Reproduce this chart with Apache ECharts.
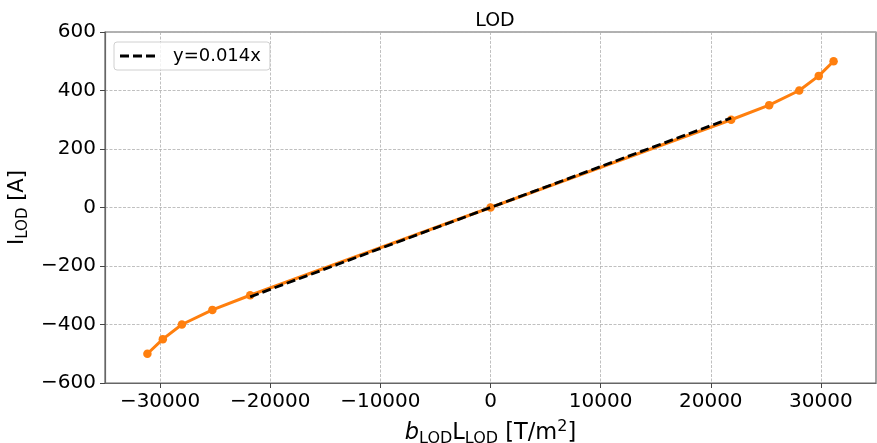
<!DOCTYPE html>
<html>
<head>
<meta charset="utf-8">
<script src="https://cdn.jsdelivr.net/npm/echarts@6/dist/echarts.min.js"></script>
<style>
  html, body { margin: 0; padding: 0; background: #fff; }
  #chart { width: 877px; height: 443px; }
</style>
</head>
<body>
<div id="chart"></div>
<script>
// Measured field product b·L (T/m^2) against coil current (A)
const fieldProduct = [-31150, -29750, -28020, -25250, -21820, 0, 21850, 25300, 28030, 29800, 31150];
const current = [-500, -450, -400, -350, -300, 0, 300, 350, 400, 450, 500];

// Linear fit over the central, linear part of the curve
const fitSlope = 0.014;
const fitRange = [-21820, 21850];
const fitLabel = 'y=0.014x';

const xTicks = [-30000, -20000, -10000, 0, 10000, 20000, 30000];
const yTicks = [-600, -400, -200, 0, 200, 400, 600];

const FONT = 'DejaVu Sans';

const measured = fieldProduct.map((x, i) => [x, current[i]]);
const fitLine = fitRange.map(x => [x, fitSlope * x]);

const gridLine = { show: true, lineStyle: { color: '#b0b0b0', width: 0.8, type: [3, 1.5] } };
const frameLine = { show: true, onZero: false, lineStyle: { color: '#666', width: 1.2 } };
const minus = v => (v < 0 ? '\u2212' + Math.abs(v) : String(v));

// rich-text styles for axis titles with sub- and superscripts
const makeRich = (main, small) => ({
  m: { fontFamily: FONT, fontSize: main, color: '#000', lineHeight: main + 5 },
  mi: { fontFamily: FONT, fontSize: main, fontStyle: 'italic', color: '#000', lineHeight: main + 5 },
  sub: { fontFamily: FONT, fontSize: small, color: '#000', lineHeight: small, verticalAlign: 'bottom' },
  sup: { fontFamily: FONT, fontSize: small, color: '#000', lineHeight: small, verticalAlign: 'top' }
});

// three short dashes, used as the legend swatch of the fit line
const dashIcon = 'path://M0,0H9V3H0Z M13,0H22V3H13Z M26,0H35V3H26Z';

const chart = echarts.init(document.getElementById('chart'), null, { renderer: 'canvas' });

chart.setOption({
  animation: false,
  backgroundColor: '#fff',
  title: {
    text: 'LOD',
    left: 490, top: 7, textAlign: 'center',
    textStyle: { fontFamily: FONT, fontSize: 19, fontWeight: 'normal', color: '#000' }
  },
  legend: {
    left: 114, top: 42,
    padding: [4, 9, 4, 6],
    itemWidth: 35, itemHeight: 3,
    borderColor: '#d0d0d0', borderWidth: 1, borderRadius: 3,
    backgroundColor: 'rgba(255,255,255,0.8)',
    textStyle: { fontFamily: FONT, fontSize: 18, color: '#000', padding: [0, 0, 0, 13], lineHeight: 20 },
    data: [{ name: fitLabel, icon: dashIcon, itemStyle: { color: '#000' } }]
  },
  grid: {
    left: 105, right: 1, top: 32, bottom: 60,
    containLabel: false, outerBoundsMode: 'none',
    show: true, borderColor: '#666', borderWidth: 1.2, backgroundColor: 'transparent'
  },
  xAxis: {
    type: 'value',
    min: -35000, max: 35000,
    axisLine: frameLine,
    axisTick: { show: true, customValues: xTicks, length: 5, inside: false, lineStyle: { color: '#444', width: 1 } },
    axisLabel: {
      customValues: xTicks,
      fontFamily: FONT, fontSize: 20, color: '#000', margin: 9,
      formatter: minus
    },
    splitLine: Object.assign({ customValues: xTicks }, gridLine),
    name: '{mi|b}{sub|LOD}{m|L}{sub|LOD}{m| [T/m}{sup|2}{m|]}',
    nameLocation: 'middle', nameGap: 36,
    nameTextStyle: { rich: makeRich(22.5, 16) }
  },
  yAxis: {
    type: 'value',
    min: yTicks[0], max: yTicks[yTicks.length - 1], interval: 200,
    axisLine: frameLine,
    axisTick: { show: true, length: 5, inside: false, lineStyle: { color: '#444', width: 1 } },
    axisLabel: {
      fontFamily: FONT, fontSize: 20, color: '#000', margin: 9,
      formatter: minus
    },
    splitLine: gridLine,
    name: '{m|I}{sub|LOD}{m| [A]}',
    nameLocation: 'middle', nameGap: 69, nameRotate: 90,
    nameTextStyle: { rich: makeRich(21, 15) }
  },
  series: [
    {
      name: 'measured',
      type: 'line',
      data: measured,
      symbol: 'circle', symbolSize: 8.5,
      lineStyle: { color: '#ff7f0e', width: 3 },
      itemStyle: { color: '#ff7f0e' },
      z: 2
    },
    {
      name: fitLabel,
      type: 'line',
      data: fitLine,
      symbol: 'none',
      lineStyle: { color: '#000', width: 2.8, type: [9, 4] },
      itemStyle: { color: '#000' },
      z: 3
    }
  ]
});
</script>
</body>
</html>
